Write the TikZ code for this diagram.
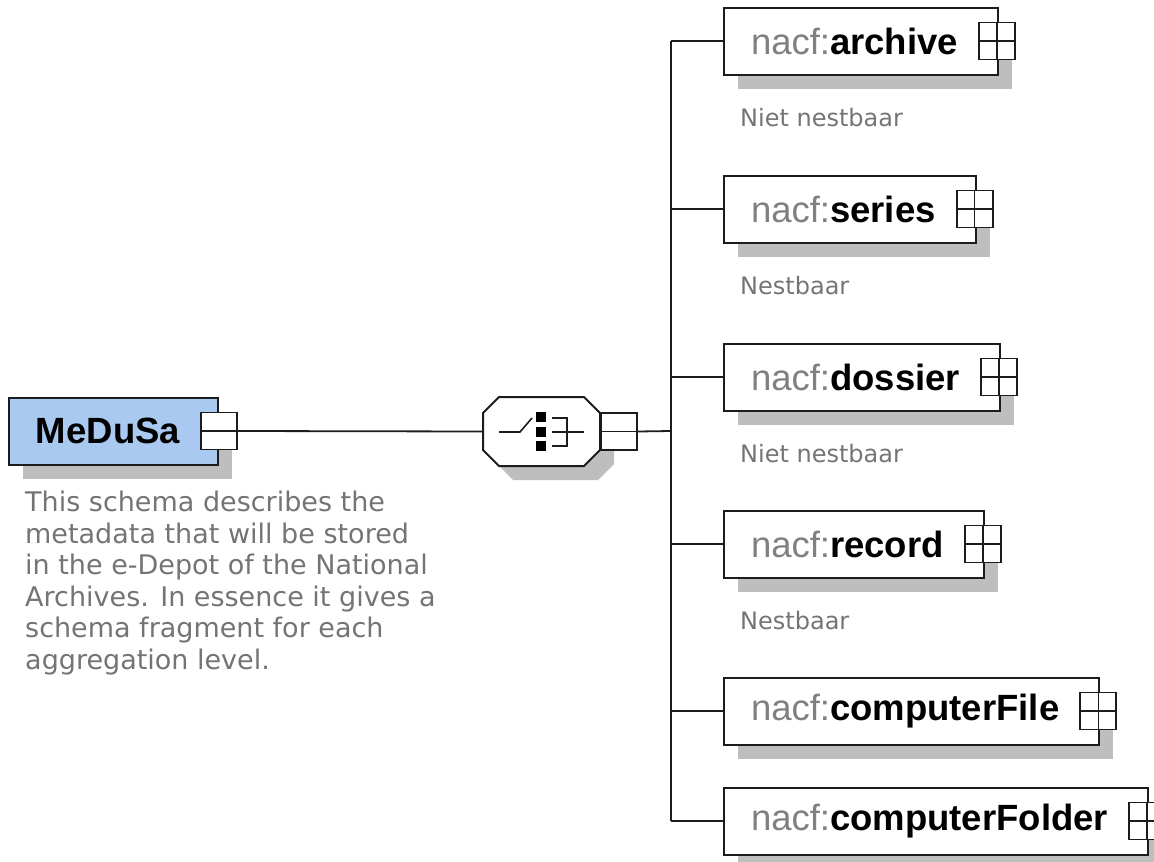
\documentclass[tikz,border=0pt]{standalone}
\usepackage{fontspec}
\setmainfont{Liberation Sans}
\newfontfamily\notefont{DejaVu Sans}
\usetikzlibrary{shadows}

\definecolor{boxblue}{HTML}{A9C9F0}
\definecolor{shadowgray}{HTML}{BEBEBE}
\definecolor{prefixgray}{HTML}{808080}
\definecolor{notegray}{HTML}{747474}
\definecolor{linegray}{HTML}{1C1C1C}

\newcommand{\elname}[1]{\hspace*{27pt}{\color{prefixgray}nacf:}\textbf{#1}\hspace*{40pt}}

\tikzset{
    elem/.style={draw=linegray, fill=white, line width=2pt, minimum height=67pt,
        inner sep=0pt, anchor=west, font=\fontsize{36.5}{40}\selectfont,
        drop shadow={shadow xshift=14pt, shadow yshift=-14pt, fill=shadowgray, opacity=1}},
    xbox/.style={draw=linegray, fill=white, line width=1.8pt, minimum width=36pt,
        minimum height=37pt, inner sep=0pt},
    minusbox/.style={xbox, path picture={
        \draw[linegray, line width=1.6pt] (path picture bounding box.west) -- (path picture bounding box.east);}},
    plusbox/.style={xbox, path picture={
        \draw[linegray, line width=1.6pt] (path picture bounding box.west) -- (path picture bounding box.east);
        \draw[linegray, line width=1.6pt] (path picture bounding box.north) -- (path picture bounding box.south);}},
    note/.style={text=notegray, inner sep=0pt, anchor=base west,
        font=\notefont\fontsize{24}{28}\selectfont},
    conn/.style={draw=linegray, line width=1.8pt}
}

\begin{document}
\begin{tikzpicture}[x=1pt,y=-1pt]
            \useasboundingbox (0,0) rectangle (1154,862);

            % root element and its annotation
            \node[elem, fill=boxblue] (medusa) at (8,431) {\hspace*{27pt}\textbf{MeDuSa}\hspace*{38pt}};
            \node[minusbox] (medusa-x) at (medusa.east) {};
            \node[text=notegray, inner sep=0pt, anchor=north west, align=left,
                font=\notefont\fontsize{27}{31.5}\selectfont] (medusa-doc) at (25,491)
                {This schema describes the\\metadata that will be stored\\in the e-Depot of the National\\Archives. In essence it gives a\\schema fragment for each\\aggregation level.};

            % choice compositor
            \node[minimum width=117pt, minimum height=69pt, inner sep=0pt] (comp) at (541.5,431.5) {};
            \fill[shadowgray] ([shift={(14,14)}]comp.center) ++(-42.5,-34.5) -- ++(85,0) -- ++(16,16) -- ++(0,37)
                -- ++(-16,16) -- ++(-85,0) -- ++(-16,-16) -- ++(0,-37) -- cycle;
            \filldraw[fill=white, draw=linegray, line width=2pt] (comp.center) ++(-42.5,-34.5) -- ++(85,0) -- ++(16,16)
                -- ++(0,37) -- ++(-16,16) -- ++(-85,0) -- ++(-16,-16) -- ++(0,-37) -- cycle;
            \draw[linegray, line width=1.6pt] ([shift={(-42.5,0.5)}]comp.center) -- ++(21,0) -- ++(12,-14);
            \foreach \y in {-14.5,0.5,14.5}{
                    \fill[black] ([shift={(-5.5,\y-5)}]comp.center) rectangle ++(10,10);
                }
            \draw[linegray, line width=1.6pt] ([shift={(10.5,-13.5)}]comp.center) -- ++(15,0) -- ++(0,28) -- ++(-15,0);
            \draw[linegray, line width=1.6pt] ([shift={(10.5,0.5)}]comp.center) -- ++(32,0);
            \node[minusbox, anchor=west] (comp-x) at (comp.east) {};

            \draw[conn] (medusa-x.east) -- (comp.west);
            \coordinate (bus) at (671,431);
            \draw[conn] (comp-x.east) -- (bus);

            % child elements
            \foreach \n/\y in {archive/41, series/209, dossier/377, record/544, computerFile/711, computerFolder/821}{
                    \node[elem] (\n) at (723,\y) {\elname{\n}};
                    \node[plusbox] (\n-x) at ([xshift=-2pt]\n.east) {};
                    \draw[conn] (bus |- \n.west) -- (\n.west);
                }
            \draw[conn] (bus |- archive.west) -- (bus |- computerFolder.west);

            \foreach \n/\lbl in {archive/Niet nestbaar, series/Nestbaar, dossier/Niet nestbaar, record/Nestbaar}{
                    \node[note] (\n-note) at ([shift={(17,85)}]\n.west) {\lbl};
                }
        \end{tikzpicture}
\end{document}
